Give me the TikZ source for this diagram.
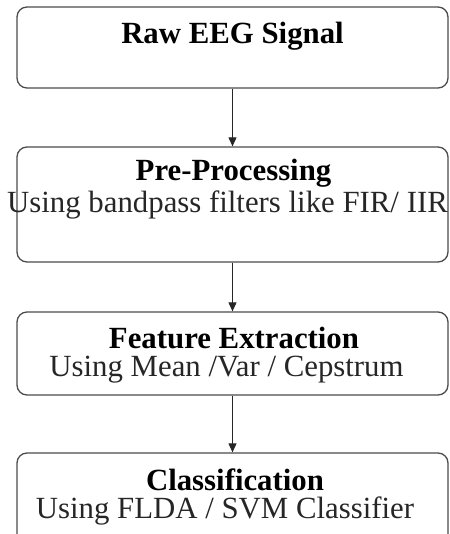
\documentclass[tikz,border=0pt]{standalone}
\usepackage{fontspec}
\setmainfont{Liberation Serif}
\usetikzlibrary{arrows.meta}
\begin{document}
\begin{tikzpicture}[x=1pt,y=-1pt,
  box/.style={draw=black!70, line width=1.3pt, rounded corners=10pt, minimum width=431pt, inner sep=0pt},
  ttl/.style={anchor=base, inner sep=0pt, font=\fontsize{30.8}{36}\selectfont\bfseries},
  sub/.style={anchor=base, inner sep=0pt, text=black!85, font=\fontsize{30.8}{36}\selectfont},
  arr/.style={-{Triangle[length=9pt,width=8pt]}, line width=1pt, draw=black!85, fill=black!85}]
\useasboundingbox (0,0) rectangle (449,534);
\clip (0,0) rectangle (449,534);
\node[box, minimum height=81pt] (b1) at (232.5,47.5) {};
\node[box, minimum height=115pt] (b2) at (232.5,204.5) {};
\node[box, minimum height=83pt] (b3) at (232.5,353.5) {};
\node[box, minimum height=107pt] (b4) at (232.5,506.5) {};
\node[ttl] (t1) at (232.5,44) {Raw EEG Signal};
\node[ttl] (t2) at (233.5,181) {Pre-Processing};
\node[sub] (s2) at (227.5,212) {Using bandpass filters like FIR/ IIR};
\node[ttl] (t3) at (234,348) {Feature Extraction};
\node[sub] (s3) at (226.5,376) {Using Mean /Var / Cepstrum};
\node[ttl] (t4) at (235,490) {Classification};
\node[sub] (s4) at (225,518) {Using FLDA / SVM Classifier};
\draw[arr] (b1.south) -- (b2.north);
\draw[arr] (b2.south) -- (b3.north);
\draw[arr] (b3.south) -- (b4.north);
\end{tikzpicture}
\end{document}
